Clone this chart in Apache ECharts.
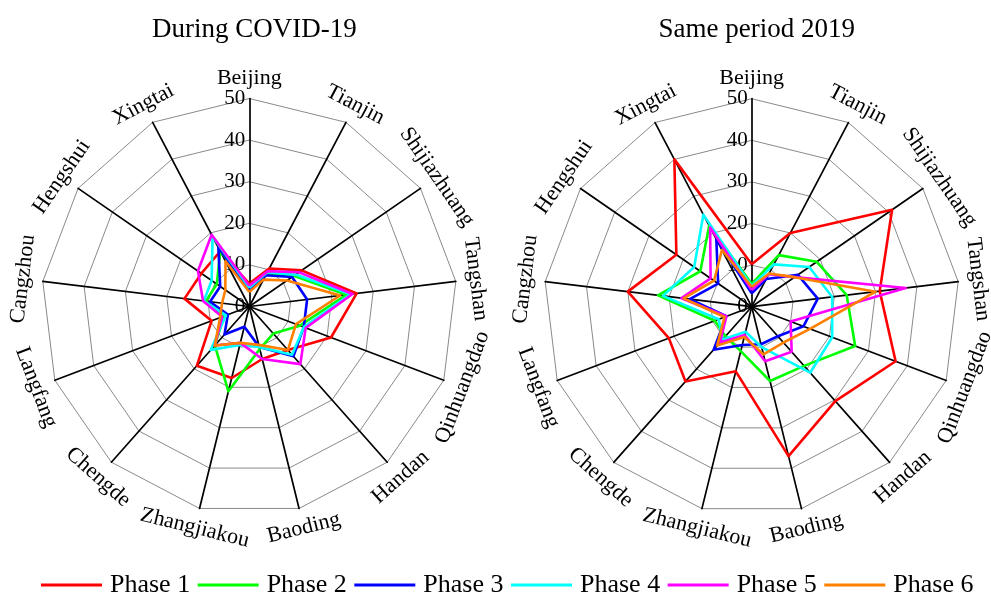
<!DOCTYPE html>
<html><head><meta charset="utf-8">
<script src="https://cdn.jsdelivr.net/npm/echarts@6/dist/echarts.min.js"></script>
<style>html,body{margin:0;padding:0;background:#fff}#c{width:991px;height:598px}</style>
</head><body><div id="c"></div>
<script>
// ---- data (clockwise from top) ----
const cities = ['Beijing','Tianjin','Shijiazhuang','Tangshan','Qinhuangdao','Handan','Baoding','Zhangjiakou','Chengde','Langfang','Cangzhou','Hengshui','Xingtai'];
const phases = ['Phase 1','Phase 2','Phase 3','Phase 4','Phase 5','Phase 6'];
const titles = ['During COVID-19','Same period 2019'];
const axisMin = 0, axisMax = 50, tickStep = 10;

// During COVID-19
const covidPhase1 = [5.5, 10.3, 15.3, 26, 21, 14, 13, 17.7, 19, 9.7, 15.7, 14, 15];
const covidPhase2 = [4.5, 9, 13, 23.5, 13, 8.7, 10.5, 21, 12.5, 6.5, 10.5, 9.5, 15];
const covidPhase3 = [4, 8.5, 12.5, 14, 14, 16, 10, 5, 9, 5.5, 9.5, 8.5, 16];
const covidPhase4 = [4.5, 9.3, 13.5, 24.5, 14, 15.5, 10, 9.5, 14, 6, 11, 11, 19];
const covidPhase5 = [5, 9.6, 14.5, 25, 14.5, 18.5, 13, 9, 12.5, 7, 11.2, 15, 19.5];
const covidPhase6 = [3.5, 7.3, 11, 22, 12, 14, 9.5, 9, 12.5, 7.5, 6.6, 7, 12.3];

// Same period 2019
const y2019Phase1 = [10.2, 20, 41, 31, 37, 30.3, 37, 16, 24, 21.3, 30, 22, 40];
const y2019Phase2 = [5.5, 14, 19, 23, 26.6, 19, 18.4, 11, 9.5, 9.5, 22.7, 15, 22];
const y2019Phase3 = [3.2, 7.5, 13.5, 16, 13.3, 9.5, 9.3, 9.5, 13.8, 6.5, 15, 9.8, 18.3];
const y2019Phase4 = [5, 11.5, 16.8, 19.5, 20.7, 21.2, 10, 6.2, 10.5, 8.5, 21.5, 16.8, 25];
const y2019Phase5 = [4, 8.8, 12.5, 37.3, 10, 14.5, 13.5, 7, 11.5, 6.5, 17, 12, 21.5];
const y2019Phase6 = [4.8, 9, 12.5, 30, 15, 11.5, 11.8, 7.5, 12.5, 7, 16.5, 11, 15.4];

// ---- styling / layout ----
const colors = ['#ff0000','#00ff00','#0000ff','#00ffff','#ff00ff','#ff8000'];
const FONT = '"Liberation Serif","Times New Roman",serif';
const centers = [[249.3, 306.5], [751.7, 306.7]];
const R = 208;

const chartData = [
  [covidPhase1, covidPhase2, covidPhase3, covidPhase4, covidPhase5, covidPhase6],
  [y2019Phase1, y2019Phase2, y2019Phase3, y2019Phase4, y2019Phase5, y2019Phase6]
];

// ECharts radar runs counter-clockwise; reorder to get clockwise layout
const reorder = a => [a[0]].concat(a.slice(1).reverse());

const radar = centers.map(c => ({
  center: c, radius: R, startAngle: 90, splitNumber: 5, shape: 'polygon',
  axisName: { show: false },
  splitLine: { lineStyle: { color: '#8a8a8a', width: 1 } },
  splitArea: { show: false },
  axisLine: { lineStyle: { color: '#000', width: 1.7 } },
  axisTick: { show: false },
  axisLabel: { show: false },
  indicator: reorder(cities).map(n => ({ name: n, min: axisMin, max: axisMax }))
}));

const series = [];
chartData.forEach((sets, k) => {
  sets.forEach((vals, p) => {
    series.push({
      type: 'radar', radarIndex: k, name: phases[p], symbol: 'none',
      lineStyle: { color: colors[p], width: 2.6 },
      itemStyle: { color: colors[p] },
      z: 3 + p,
      data: [{ name: phases[p], value: reorder(vals) }]
    });
  });
});

// rotated city labels
const graphic = [];
const step = 360 / cities.length;
centers.forEach(c => {
  cities.forEach((name, i) => {
    const th = i * step;
    const rad = th * Math.PI / 180;
    const rr = R + 20;
    let rot = th;
    if (th > 90 && th < 270) rot = th - 180;
    else if (th >= 270) rot = th - 360;
    graphic.push({
      type: 'text',
      x: c[0] + rr * Math.sin(rad),
      y: c[1] - rr * Math.cos(rad),
      rotation: -rot * Math.PI / 180,
      style: {
        text: name, fill: '#000', font: '22px ' + FONT,
        align: 'center', verticalAlign: 'middle',
        textAlign: 'center', textVerticalAlign: 'middle'
      }
    });
  });
});

const option = {
  backgroundColor: '#fff',
  animation: false,
  title: titles.map((t, k) => ({
    text: t, left: centers[k][0], top: 11, textAlign: 'center',
    textStyle: { fontFamily: FONT, fontSize: 27, fontWeight: 'normal', color: '#000' }
  })),
  legend: {
    data: phases, left: 41, top: 572, padding: 0, itemWidth: 61, itemHeight: 3, itemGap: 7.5,
    icon: 'rect',
    textStyle: { fontFamily: FONT, fontSize: 26, color: '#000', padding: [0, 0, 0, 3] }
  },
  radar: radar,
  polar: centers.map(c => ({ center: c, radius: R })),
  angleAxis: centers.map((c, k) => ({ polarIndex: k, type: 'value', startAngle: 90, show: false })),
  radiusAxis: centers.map((c, k) => ({
    polarIndex: k, type: 'value', min: axisMin, max: axisMax, interval: tickStep,
    axisLine: { show: false }, axisTick: { show: false }, splitLine: { show: false },
    axisLabel: { fontFamily: FONT, fontSize: 21, color: '#000', margin: 4 }
  })),
  graphic: graphic,
  series: series
};

const chart = echarts.init(document.getElementById('c'), null, { renderer: 'canvas' });
chart.setOption(option);
</script></body></html>
